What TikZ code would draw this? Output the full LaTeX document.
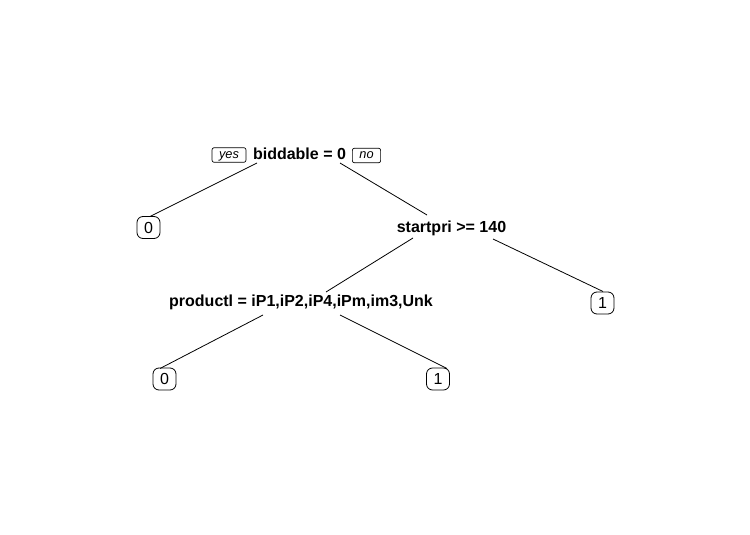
\documentclass[tikz,border=0pt]{standalone}
\usepackage{fontspec}
\setmainfont{Liberation Sans}
\begin{document}
\begin{tikzpicture}[x=1pt,y=-1pt,
  split/.style={font=\fontsize{16}{19}\selectfont\bfseries, inner sep=0pt, anchor=base},
  leaf/.style={draw, line width=0.8pt, rounded corners=6pt, minimum width=23pt, minimum height=22pt, inner sep=0pt, font=\fontsize{16}{19}\selectfont},
  tag/.style={draw, line width=0.7pt, rounded corners=2pt, inner xsep=7pt, inner ysep=1.5pt, text height=9pt, text depth=2.5pt, font=\fontsize{12.8}{15}\selectfont\itshape},
  branch/.style={line width=0.8pt}]
\useasboundingbox (0,0) rectangle (750,535);
% nodes
\node[split] (root) at (299.5,159) {biddable = 0};
\node[tag] (yes) at (229,155) {yes};
\node[tag] (no) at (366.5,155.5) {no};
\node[leaf] (leafA) at (148.5,227.5) {0};
\node[split] (startpri) at (451.5,232.5) {startpri >= 140};
\node[leaf] (leafB) at (602.5,303) {1};
\node[split] (productl) at (301,306.5) {productl = iP1,iP2,iP4,iPm,im3,Unk};
\node[leaf] (leafC) at (164.5,379) {0};
\node[leaf] (leafD) at (438,379) {1};
% branch end points
\coordinate (rootL) at (257,163);
\coordinate (rootR) at (340,163);
\coordinate (spIn) at (427,215);
\coordinate (spL) at (413,238);
\coordinate (spR) at (493,239);
\coordinate (prIn) at (326,292);
\coordinate (prL) at (263,315);
\coordinate (prR) at (340,315);
\coordinate (leafBIn) at (603,291.5);
\coordinate (leafCIn) at (160,368.5);
\coordinate (leafDIn) at (447,368.5);
\coordinate (leafAIn) at (150,216.5);
% branches
\draw[branch] (rootL) -- (leafAIn);
\draw[branch] (rootR) -- (spIn);
\draw[branch] (spL) -- (prIn);
\draw[branch] (spR) -- (leafBIn);
\draw[branch] (prL) -- (leafCIn);
\draw[branch] (prR) -- (leafDIn);
\end{tikzpicture}
\end{document}
